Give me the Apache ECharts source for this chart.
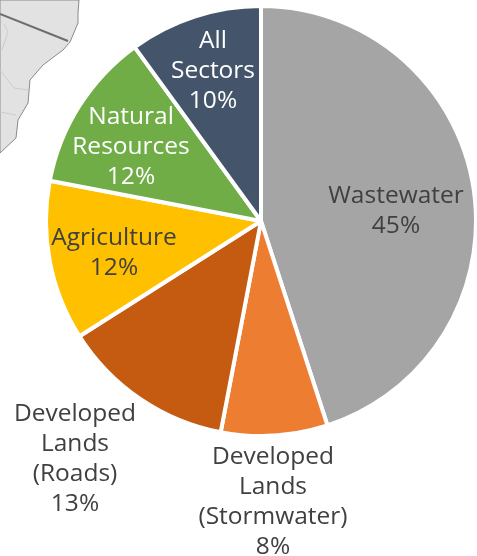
<!DOCTYPE html>
<html>
<head>
<meta charset="utf-8">
<style>
  html, body { margin: 0; padding: 0; background: #fff; }
  #grafico { width: 477px; height: 556px; }
</style>
<script src="https://cdn.jsdelivr.net/npm/echarts@6/dist/echarts.min.js"></script>
</head>
<body>
<div id="grafico"></div>
<script>
var nomes = ['Wastewater', 'Developed\nLands\n(Stormwater)', 'Developed\nLands\n(Roads)', 'Agriculture', 'Natural\nResources', 'All\nSectors'];
var dados = [45, 8, 13, 12, 12, 10];
var cores = ['#a5a5a5', '#ed7d31', '#c55a11', '#ffc000', '#70ad47', '#44546a'];
var coresTexto = ['#404040', '#404040', '#404040', '#404040', '#ffffff', '#ffffff'];
// label centres in px, same order as nomes
var posX = [396, 273, 75, 114, 131, 213];
var posY = [211, 502, 459, 253, 147, 71];

// map fragment behind the pie, top left corner
var mapaBorda = [[0, 0], [79, 0], [78, 13], [78, 23], [70, 42], [63, 50], [43, 65], [30, 80], [28, 103], [18, 120], [16, 138], [0, 153]];
var mapaLinhas = [
  [[0, 14], [68, 41]],
  [[0, 112], [16, 115]],
  [[4, 24], [8, 32], [2, 50]],
  [[0, 70], [14, 88], [28, 90]]
];

var myChart = echarts.init(document.getElementById('grafico'), null, { renderer: 'canvas' });

var graficos = [{
  type: 'polygon',
  shape: { points: mapaBorda },
  style: { fill: '#e2e2e2', stroke: '#8a8a8a', lineWidth: 1 }
}];
mapaLinhas.forEach(function (l, i) {
  graficos.push({
    type: 'polyline',
    shape: { points: l },
    style: { fill: null, stroke: i === 0 ? '#6e6e6e' : '#cccccc', lineWidth: i === 0 ? 2 : 1 }
  });
});

var option = {
  animation: false,
  graphic: graficos,
  series: [
    {
      type: 'pie',
      center: [261, 221],
      radius: [0, 215],
      startAngle: 90,
      clockwise: true,
      data: dados.map(function (v, i) {
        return {
          value: v,
          name: nomes[i],
          itemStyle: { color: cores[i] },
          label: { color: coresTexto[i] }
        };
      }),
      itemStyle: { borderColor: '#fff', borderWidth: 4 },
      label: {
        position: 'inside',
        formatter: '{b}\n{c}%',
        fontFamily: 'Open Sans',
        fontSize: 24.5,
        lineHeight: 30,
        align: 'center',
        verticalAlign: 'middle'
      },
      labelLine: { show: false },
      labelLayout: function (p) {
        return {
          x: posX[p.dataIndex],
          y: posY[p.dataIndex],
          align: 'center',
          verticalAlign: 'middle'
        };
      }
    }
  ]
};

option && myChart.setOption(option);
</script>
</body>
</html>
